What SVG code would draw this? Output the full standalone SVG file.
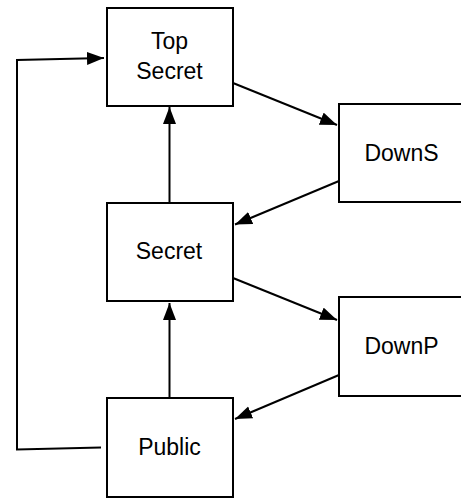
<svg xmlns="http://www.w3.org/2000/svg" width="461" height="500" viewBox="0 0 461 500">
<style>
.box{fill:#fff;stroke:#000;stroke-width:2}
.lbl{font-family:"Liberation Sans",Arial,sans-serif;font-size:23px;fill:#000;text-anchor:middle}
.edge{fill:none;stroke:#000;stroke-width:2;marker-end:url(#ah)}
</style>
<defs>
<marker id="ah" markerUnits="userSpaceOnUse" markerWidth="18" markerHeight="14" refX="17" refY="6.5" orient="auto" viewBox="0 0 18 14">
<path d="M0,0 L17,6.5 L0,13 z" fill="#000"/>
</marker>
</defs>
<rect width="461" height="500" fill="#fff"/>
<g id="connectors">
<polyline class="edge" points="101,447.5 17,449.5 17,60 104,58"/>
<line class="edge" x1="169.5" y1="203" x2="169.5" y2="107"/>
<line class="edge" x1="169.5" y1="398" x2="169.5" y2="303"/>
<line class="edge" x1="233" y1="83" x2="337" y2="125"/>
<line class="edge" x1="339" y1="181" x2="235" y2="224.5"/>
<line class="edge" x1="233" y1="278" x2="337" y2="320"/>
<line class="edge" x1="339" y1="375" x2="235" y2="419"/>
</g>
<g id="topsecret">
<rect class="box" x="107" y="8" width="126" height="98"/>
<text class="lbl" x="169.5" y="49">Top</text>
<text class="lbl" x="169.5" y="78.5">Secret</text>
</g>
<g id="downs">
<rect class="box" x="339" y="104" width="126" height="98"/>
<text class="lbl" x="401.5" y="161">DownS</text>
</g>
<g id="secret">
<rect class="box" x="107" y="203" width="126" height="98"/>
<text class="lbl" x="169" y="259">Secret</text>
</g>
<g id="downp">
<rect class="box" x="339" y="297" width="126" height="99"/>
<text class="lbl" x="401.5" y="354">DownP</text>
</g>
<g id="public">
<rect class="box" x="107" y="398" width="126" height="99"/>
<text class="lbl" x="169.5" y="455">Public</text>
</g>
</svg>
